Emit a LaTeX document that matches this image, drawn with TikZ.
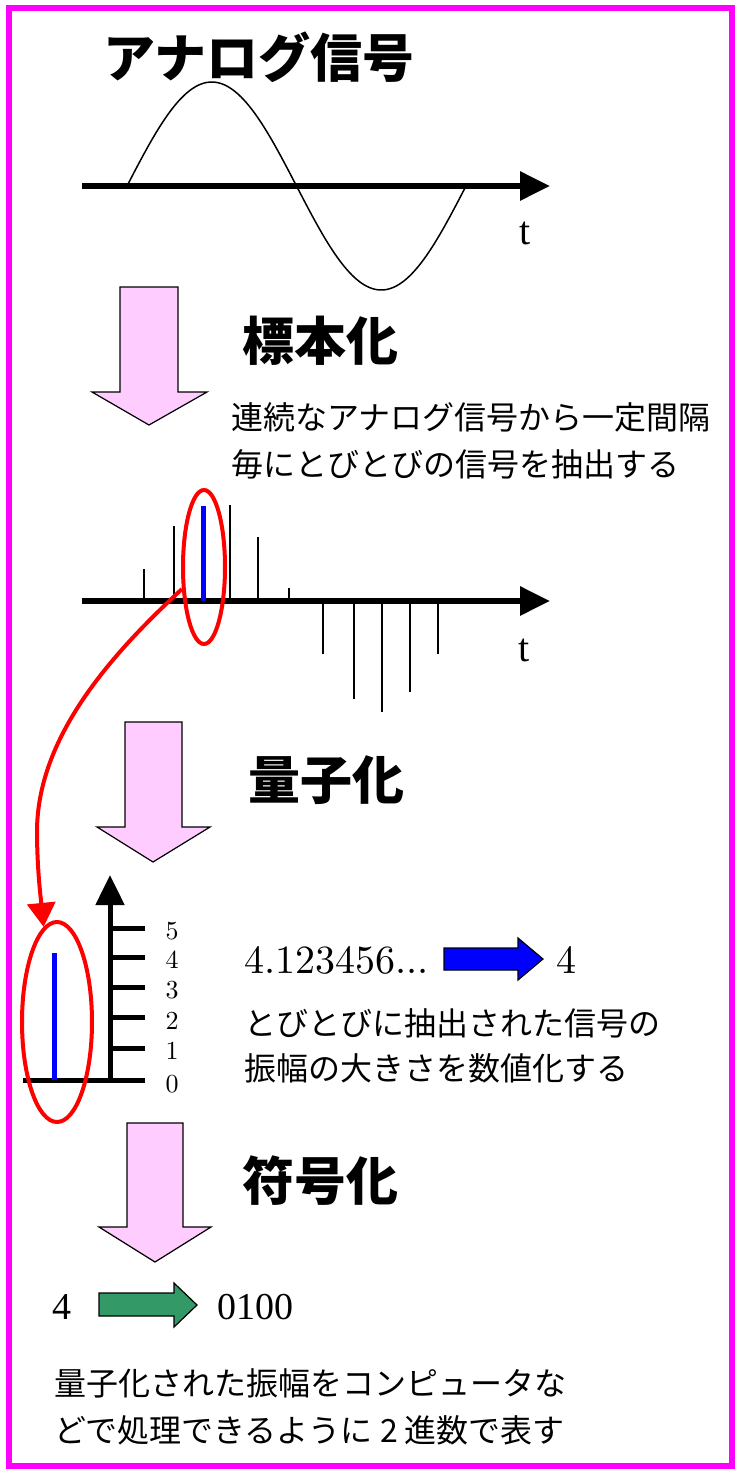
\documentclass[tikz,border=0pt]{standalone}
\usepackage{fontspec}
\usetikzlibrary{arrows.meta,shapes.geometric}
\newfontfamily\jp{Noto Sans CJK JP}
\newfontfamily\tms{Liberation Serif}
\newfontfamily\lmr{lmroman10-regular}[Extension=.otf]
\definecolor{pinkfill}{HTML}{FFCCFF}
\definecolor{framemag}{HTML}{FF00FF}
\definecolor{greenfill}{HTML}{339966}
\begin{document}
\begin{tikzpicture}[x=1pt,y=-1pt,
  axisline/.style={line width=6pt,-{Triangle[length=30pt,width=28pt]}},
  sampleline/.style={line width=2pt},
  pinkarrow/.style={fill=pinkfill,draw=black,line width=1.2pt,line join=miter},
  blockarrow/.style={draw=black,line width=1.2pt,line join=miter},
  heading/.style={anchor=west,inner sep=0pt,font=\jp\bfseries\fontsize{52}{60}\selectfont},
  body/.style={anchor=west,inner sep=0pt,font=\jp\fontsize{32}{36}\selectfont},
  redring/.style={draw=red,line width=4pt,ellipse,inner sep=0pt},
  ticklab/.style={inner sep=0pt,font=\lmr\fontsize{26}{28}\selectfont}]
\useasboundingbox (0,0) rectangle (736,1470);
\fill[white] (0,0) rectangle (736,1470);
\draw[framemag,line width=6pt] (9,8) rectangle (732,1466);

% ---- analog signal
\node[heading] (title) at (103,57) {アナログ信号};
\coordinate (a1s) at (82,186);
\coordinate (a1e) at (550,186);
\draw[axisline] (a1s) -- (a1e);
\draw[line width=1.5pt] plot[domain=0:360,samples=120] ({127+0.9417*\x},{186-104*sin(\x)});
\node[inner sep=0pt,font=\tms\fontsize{40}{44}\selectfont] (t1) at (525,233) {t};

% ---- arrow 1
\draw[pinkarrow] (120,287) -- (178,287) -- (178,392) -- (207,392) -- (149,425) -- (92,392) -- (120,392) -- cycle;
\node[heading] (h1) at (242,341) {標本化};
\node[body] (s1) at (231,417) {連続なアナログ信号から一定間隔};
\node[body] (s2) at (231,464) {毎にとびとびの信号を抽出する};

% ---- sampled signal
\coordinate (a2s) at (82,601);
\coordinate (a2e) at (550,601);
\draw[axisline] (a2s) -- (a2e);
\foreach \xx/\yy in {144/569,174/526,230/505,258/537,289/588,323/654,354/699,382/712,410/692,438/654}
  \draw[sampleline] (\xx,601) -- (\xx,\yy);
\draw[blue,line width=5pt] (203,601) -- (203,506);
\node[inner sep=0pt,font=\tms\fontsize{40}{44}\selectfont] (t2) at (524,650) {t};
\node[redring,minimum width=42pt,minimum height=154pt] (sel) at (204,567) {};

% ---- arrow 2
\draw[pinkarrow] (125,722) -- (182,722) -- (182,827) -- (210,827) -- (153,862) -- (97,827) -- (125,827) -- cycle;
\node[heading] (h2) at (248,780) {量子化};

% ---- quantization scale
\coordinate (vs) at (110,1080);
\coordinate (ve) at (110,875);
\draw[line width=5pt,-{Triangle[length=30pt,width=28pt]}] (vs) -- (ve);
\draw[line width=5pt] (23,1080) -- (145,1080);
\foreach \k/\yy in {1/1048,2/1017,3/987,4/957,5/928}
  \draw[line width=5pt] (110,\yy) -- (145,\yy);
\foreach \k/\yy in {0/1084,1/1051,2/1021,3/990,4/960,5/931}
  \node[ticklab] (lab\k) at (172,\yy) {\k};
\draw[blue,line width=5pt] (54,953) -- (54,1080);
\node[redring,minimum width=70pt,minimum height=200pt] (sel2) at (57,1022) {};
\draw[red,line width=4pt,-{Triangle[length=24pt,width=28pt]}]
  (sel.225) .. controls (105,660) and (38,740) .. (37,830)
  .. controls (37,870) and (41,900) .. (sel2.98);

\node[anchor=base west,inner sep=0pt,font=\lmr\fontsize{40}{44}\selectfont] (q1) at (244,973) {4.123456...};
\draw[blockarrow,fill=blue] (444,948) -- (518,948) -- (518,938) -- (543,959) -- (518,980) -- (518,970) -- (444,970) -- cycle;
\node[anchor=base west,inner sep=0pt,font=\lmr\fontsize{40}{44}\selectfont] (q2) at (556,973) {4};
\node[body] (s3) at (244,1023) {とびとびに抽出された信号の};
\node[body] (s4) at (244,1068) {振幅の大きさを数値化する};

% ---- arrow 3
\draw[pinkarrow] (127,1123) -- (183,1123) -- (183,1227) -- (211,1227) -- (155,1262) -- (99,1227) -- (127,1227) -- cycle;
\node[heading] (h3) at (242,1181) {符号化};

\node[anchor=base west,inner sep=0pt,font=\tms\fontsize{38}{42}\selectfont] (c1) at (52,1319) {4};
\draw[blockarrow,fill=greenfill] (99,1293) -- (174,1293) -- (174,1283) -- (197,1305) -- (174,1327) -- (174,1316) -- (99,1316) -- cycle;
\node[anchor=base west,inner sep=0pt,font=\tms\fontsize{38}{42}\selectfont] (c2) at (217,1319) {0100};
\node[body] (s5) at (54,1383) {量子化された振幅をコンピュータな};
\node[body] (s6) at (54,1430) {どで処理できるように 2 進数で表す};
\end{tikzpicture}
\end{document}
